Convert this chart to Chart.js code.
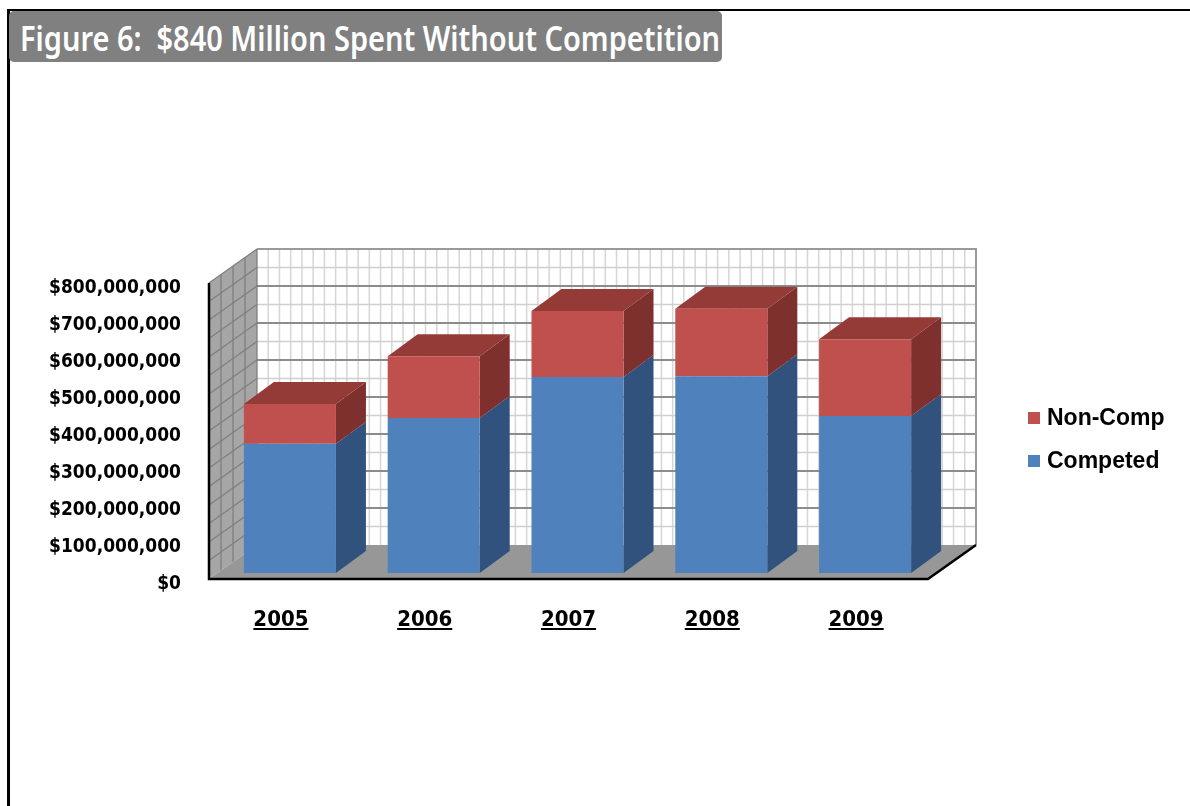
<!DOCTYPE html>
<html>
<head>
<meta charset="utf-8">
<script src="https://cdn.jsdelivr.net/npm/chart.js@4.4.1/dist/chart.umd.min.js"></script>
<style>
  html, body { margin: 0; padding: 0; background: #fff; }
  body { width: 1190px; height: 806px; position: relative; overflow: hidden; }
  #frame { position: absolute; left: 7px; top: 9px; width: 1200px; height: 820px;
           border-top: 2px solid #000; border-left: 3px solid #000; }
  #title { position: absolute; left: 9px; top: 11px; width: 713px; height: 51px;
           background: #808080; border-radius: 5px; overflow: hidden; }
  #title span { position: absolute; left: 11px; top: 3px; white-space: pre; color: #fff;
                font: 600 35px "Noto Sans", sans-serif; transform-origin: 0 0; }
  #chart { position: absolute; left: 0; top: 0; }
  .leg { position: absolute; left: 1028px; font: bold 23px "Liberation Sans", Arial, sans-serif;
         color: #000; white-space: nowrap; }
  .leg i { display: inline-block; width: 12px; height: 12px; margin-right: 7px; vertical-align: 1px; }
</style>
</head>
<body>
<div id="frame"></div>
<div id="title"><span id="titleText">Figure 6:  $840 Million Spent Without Competition</span></div>
<canvas id="chart" width="1190" height="806"></canvas>
<div class="leg" style="top:404px"><i style="background:#C0504D"></i>Non-Comp</div>
<div class="leg" style="top:447px"><i style="background:#4F81BD"></i>Competed</div>
<script>
// дані
const years = ["2005", "2006", "2007", "2008", "2009"];
const competed = [349000000, 419000000, 530000000, 532000000, 424000000];
const nonComp = [108000000, 167000000, 178000000, 182000000, 208000000];
const yMax = 800000000;
const yStep = 100000000;

// підгонка ширини заголовка
const t = document.getElementById("titleText");
t.style.transform = "scaleX(" + (700 / t.getBoundingClientRect().width) + ")";

const tickFont = '"DejaVu Sans Condensed", "DejaVu Sans", sans-serif';

// 3D: стіни, підлога, бокові та верхні грані
const WALL_DX = 48, WALL_DY = -34;
const BAR_DX = 30, BAR_DY = -22;
const BAR_SHIFT_X = 9, BAR_SHIFT_Y = -6;

const fake3d = {
  id: "fake3d",
  beforeDatasetsDraw(chart) {
    const { ctx, chartArea: a, scales: { y } } = chart;
    ctx.save();

    // задня стіна
    const bl = a.left + WALL_DX, bt = a.top + WALL_DY;
    ctx.fillStyle = "#fff";
    ctx.fillRect(bl, bt, a.width, a.height);
    ctx.strokeStyle = "#d6d6d6";
    ctx.lineWidth = 1.5;
    for (let i = 1; i < 64; i++) {
      const xx = bl + i * a.width / 64;
      ctx.beginPath(); ctx.moveTo(xx, bt); ctx.lineTo(xx, bt + a.height); ctx.stroke();
    }
    for (let v = yStep / 2; v <= yMax; v += yStep / 2) {
      const yy = y.getPixelForValue(v) + WALL_DY;
      const major = v % yStep === 0;
      ctx.strokeStyle = major ? "#8c8c8c" : "#cfcfcf";
      ctx.lineWidth = major ? 2 : 1.5;
      ctx.beginPath(); ctx.moveTo(bl, yy); ctx.lineTo(bl + a.width, yy); ctx.stroke();
    }
    ctx.strokeStyle = "#9a9a9a";
    ctx.lineWidth = 2;
    ctx.beginPath();
    ctx.moveTo(bl, bt); ctx.lineTo(bl + a.width, bt); ctx.lineTo(bl + a.width, bt + a.height);
    ctx.stroke();

    // бокова стіна
    ctx.fillStyle = "#a6a6a6";
    ctx.beginPath();
    ctx.moveTo(a.left, a.top); ctx.lineTo(bl, bt);
    ctx.lineTo(bl, a.bottom + WALL_DY); ctx.lineTo(a.left, a.bottom);
    ctx.closePath(); ctx.fill();
    ctx.strokeStyle = "#7f7f7f";
    ctx.lineWidth = 1.3;
    for (let v = yStep / 2; v <= yMax; v += yStep / 2) {
      const yy = y.getPixelForValue(v);
      ctx.beginPath(); ctx.moveTo(a.left, yy); ctx.lineTo(bl, yy + WALL_DY); ctx.stroke();
    }
    for (let f = 0.25; f < 1.01; f += 0.25) {
      ctx.beginPath();
      ctx.moveTo(a.left + f * WALL_DX, a.top + f * WALL_DY);
      ctx.lineTo(a.left + f * WALL_DX, a.bottom + f * WALL_DY);
      ctx.stroke();
    }

    // підлога
    ctx.fillStyle = "#979797";
    ctx.beginPath();
    ctx.moveTo(a.left, a.bottom); ctx.lineTo(bl, a.bottom + WALL_DY);
    ctx.lineTo(a.right + WALL_DX, a.bottom + WALL_DY); ctx.lineTo(a.right, a.bottom);
    ctx.closePath(); ctx.fill();

    ctx.strokeStyle = "#000";
    ctx.lineWidth = 2.5;
    ctx.beginPath();
    ctx.moveTo(a.left, a.top); ctx.lineTo(a.left, a.bottom);
    ctx.lineTo(a.right, a.bottom); ctx.lineTo(a.right + WALL_DX, a.bottom + WALL_DY);
    ctx.stroke();

    // грані стовпців
    ctx.translate(BAR_SHIFT_X, BAR_SHIFT_Y);
    const sides = ["#30527C", "#7D302D"];
    chart.data.datasets.forEach((ds, di) => {
      chart.getDatasetMeta(di).data.forEach((bar) => {
        const p = bar.getProps(["x", "y", "base", "width"], true);
        const l = p.x - p.width / 2, r = p.x + p.width / 2;
        const top = Math.min(p.y, p.base), bot = Math.max(p.y, p.base);
        ctx.fillStyle = sides[di];
        ctx.beginPath();
        ctx.moveTo(r, top); ctx.lineTo(r + BAR_DX, top + BAR_DY);
        ctx.lineTo(r + BAR_DX, bot + BAR_DY); ctx.lineTo(r, bot);
        ctx.closePath(); ctx.fill();
        if (di === chart.data.datasets.length - 1) {
          ctx.fillStyle = "#943B38";
          ctx.beginPath();
          ctx.moveTo(l, top); ctx.lineTo(l + BAR_DX, top + BAR_DY);
          ctx.lineTo(r + BAR_DX, top + BAR_DY); ctx.lineTo(r, top);
          ctx.closePath(); ctx.fill();
        }
      });
    });
    // translate лишається для передніх граней, знімаємо в afterDatasetsDraw
  },
  afterDatasetsDraw(chart) {
    chart.ctx.restore();
  },
  afterDraw(chart) {
    const { ctx, scales: { x } } = chart;
    ctx.save();
    ctx.font = "bold 22px " + tickFont;
    ctx.fillStyle = "#000";
    ctx.textAlign = "center";
    ctx.textBaseline = "alphabetic";
    years.forEach((lab, i) => {
      const cx = x.getPixelForValue(i);
      ctx.fillText(lab, cx, 626);
      const w = ctx.measureText(lab).width;
      ctx.fillRect(cx - w / 2, 628, w, 2);
    });
    ctx.restore();
  }
};

new Chart(document.getElementById("chart"), {
  type: "bar",
  data: {
    labels: years,
    datasets: [
      { label: "Competed", data: competed, backgroundColor: "#4F81BD", borderWidth: 0 },
      { label: "Non-Comp", data: nonComp, backgroundColor: "#C0504D", borderWidth: 0 }
    ]
  },
  options: {
    responsive: false,
    animation: false,
    events: [],
    layout: { padding: { left: 0, top: 283, right: 262, bottom: 227 } },
    datasets: { bar: { barPercentage: 0.8, categoryPercentage: 0.8 } },
    plugins: { legend: { display: false }, tooltip: { enabled: false }, title: { display: false } },
    scales: {
      x: {
        stacked: true,
        grid: { display: false },
        border: { display: false },
        ticks: { display: false },
        afterFit(scale) { scale.height = 0; }
      },
      y: {
        stacked: true,
        min: 0,
        max: yMax,
        grid: { display: false },
        border: { display: false },
        ticks: {
          stepSize: yStep,
          padding: 20,
          labelOffset: 5,
          color: "#000",
          font: { family: tickFont, weight: "bold", size: 19 },
          callback: (v) => "$" + Number(v).toLocaleString("en-US")
        },
        afterFit(scale) { scale.width = 209; }
      }
    }
  },
  plugins: [fake3d]
});
</script>
</body>
</html>
